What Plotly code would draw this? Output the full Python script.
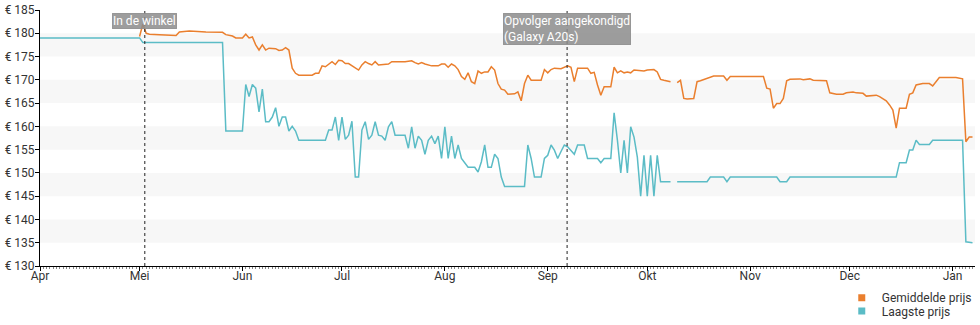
import plotly.graph_objects as go

# ---------------- data ----------------
low_dates = ["2019-04-01","2019-05-01","2019-05-02","2019-05-26","2019-05-27","2019-06-01","2019-06-02","2019-06-03","2019-06-04","2019-06-05",
    "2019-06-06","2019-06-07","2019-06-08","2019-06-09","2019-06-10","2019-06-11","2019-06-12","2019-06-13","2019-06-14","2019-06-15",
    "2019-06-16","2019-06-17","2019-06-18","2019-06-26","2019-06-27","2019-06-28","2019-06-29","2019-06-30","2019-07-01","2019-07-02",
    "2019-07-03","2019-07-04","2019-07-05","2019-07-06","2019-07-07","2019-07-08","2019-07-09","2019-07-10","2019-07-11","2019-07-12",
    "2019-07-13","2019-07-14","2019-07-15","2019-07-16","2019-07-17","2019-07-20","2019-07-21","2019-07-22","2019-07-23","2019-07-24",
    "2019-07-25","2019-07-26","2019-07-27","2019-07-28","2019-07-29","2019-07-30","2019-07-31","2019-08-01","2019-08-02","2019-08-03",
    "2019-08-04","2019-08-05","2019-08-06","2019-08-07","2019-08-08","2019-08-10","2019-08-11","2019-08-12","2019-08-13","2019-08-14",
    "2019-08-15","2019-08-16","2019-08-17","2019-08-18","2019-08-19","2019-08-25","2019-08-26","2019-08-27","2019-08-28","2019-08-30",
    "2019-08-31","2019-09-01","2019-09-02","2019-09-03","2019-09-04","2019-09-05","2019-09-06","2019-09-07","2019-09-08","2019-09-09",
    "2019-09-10","2019-09-12","2019-09-13","2019-09-16","2019-09-17","2019-09-18","2019-09-20","2019-09-21","2019-09-22","2019-09-23",
    "2019-09-24","2019-09-25","2019-09-26","2019-09-27","2019-09-28","2019-09-29","2019-09-30","2019-10-01","2019-10-02","2019-10-03",
    "2019-10-04","2019-10-05","2019-10-08","2019-10-09","2019-10-10","2019-10-19","2019-10-20","2019-10-24","2019-10-25","2019-10-26",
    "2019-11-09","2019-11-10","2019-11-12","2019-11-13","2019-12-15","2019-12-16","2019-12-18","2019-12-19","2019-12-20","2019-12-21",
    "2019-12-22","2019-12-25","2019-12-26","2020-01-04","2020-01-05","2020-01-07"]
low_values = [179,179,178,178,159,159,169,166.4,169,168.2,
    163.1,168,161,161,162,164,160,162,162,159,
    160,159,157,157,159.2,159.2,162,157,162,157.2,
    158.1,161.1,149.1,149.1,159.2,161,157.2,158.1,161,158.1,
    157.9,157,159.9,161,158.1,158.1,155.3,159.9,155.3,157.9,
    157,154,157,157.9,156.3,157.9,153.1,159.9,153.1,157.9,
    153.1,156,153.1,152.2,151.2,151.2,150.2,152.4,156,151.2,
    151.2,154,153.1,149.1,147.1,147.1,156,153.1,149.1,149.1,
    153.1,153.8,156,154.9,153.1,154.6,156,155.6,154.9,154,
    156,156,153.1,153.1,152.2,153.1,153.1,162.9,157,150,
    157,150,159.9,157.7,153.4,145,153.8,145,153.8,145,
    153.8,148.1,148.1,None,148.1,148.1,149.1,149.1,148.1,149.1,
    149.1,148.1,148.1,149.1,149.1,152.2,152.2,154.9,154.9,157,
    156.1,156.1,157,157,135.2,135]

avg_dates = ["2019-05-01","2019-05-02","2019-05-03","2019-05-04","2019-05-07","2019-05-12","2019-05-13","2019-05-16","2019-05-21","2019-05-26",
    "2019-05-27","2019-05-29","2019-05-30","2019-06-01","2019-06-02","2019-06-03","2019-06-04","2019-06-05","2019-06-06","2019-06-07",
    "2019-06-08","2019-06-09","2019-06-11","2019-06-12","2019-06-13","2019-06-14","2019-06-15","2019-06-16","2019-06-17","2019-06-18",
    "2019-06-22","2019-06-23","2019-06-24","2019-06-25","2019-06-26","2019-06-27","2019-06-28","2019-06-29","2019-06-30","2019-07-01",
    "2019-07-02","2019-07-03","2019-07-04","2019-07-05","2019-07-06","2019-07-07","2019-07-08","2019-07-09","2019-07-10","2019-07-11",
    "2019-07-12","2019-07-15","2019-07-16","2019-07-20","2019-07-22","2019-07-23","2019-07-24","2019-07-25","2019-07-26","2019-07-28",
    "2019-07-30","2019-07-31","2019-08-01","2019-08-02","2019-08-03","2019-08-04","2019-08-05","2019-08-06","2019-08-07","2019-08-08",
    "2019-08-09","2019-08-10","2019-08-11","2019-08-12","2019-08-13","2019-08-14","2019-08-15","2019-08-16","2019-08-17","2019-08-18",
    "2019-08-19","2019-08-20","2019-08-22","2019-08-23","2019-08-24","2019-08-25","2019-08-26","2019-08-27","2019-08-30","2019-08-31",
    "2019-09-01","2019-09-02","2019-09-03","2019-09-05","2019-09-06","2019-09-07","2019-09-08","2019-09-09","2019-09-10","2019-09-13",
    "2019-09-14","2019-09-15","2019-09-16","2019-09-17","2019-09-18","2019-09-20","2019-09-21","2019-09-22","2019-09-23","2019-09-24",
    "2019-09-25","2019-09-26","2019-09-27","2019-09-30","2019-10-01","2019-10-03","2019-10-04","2019-10-05","2019-10-06","2019-10-08",
    "2019-10-09","2019-10-10","2019-10-11","2019-10-12","2019-10-13","2019-10-15","2019-10-16","2019-10-17","2019-10-19","2019-10-21",
    "2019-10-24","2019-10-25","2019-10-26","2019-11-05","2019-11-06","2019-11-07","2019-11-08","2019-11-09","2019-11-10","2019-11-11",
    "2019-11-12","2019-11-13","2019-11-16","2019-11-17","2019-11-19","2019-11-20","2019-11-24","2019-11-25","2019-11-27","2019-11-29",
    "2019-11-30","2019-12-02","2019-12-03","2019-12-05","2019-12-06","2019-12-08","2019-12-09","2019-12-10","2019-12-11","2019-12-12",
    "2019-12-13","2019-12-14","2019-12-15","2019-12-16","2019-12-18","2019-12-19","2019-12-20","2019-12-21","2019-12-23","2019-12-25",
    "2019-12-26","2019-12-28","2020-01-02","2020-01-04","2020-01-05","2020-01-06","2020-01-07"]
avg_values = [179.3,182,180,179.8,179.7,179.5,180.3,180.5,180.3,180.2,
    179.7,179.4,179,179,179.8,179,179.2,177.5,176.4,177.5,
    176.4,176.8,176.7,176.3,176.4,176.9,176.4,172.5,171.4,171,
    171,171.4,171.4,173,172.8,173.3,173.9,173.3,174.2,174.1,
    173.5,173.5,173,172.5,172.1,173.2,173.9,173.5,173.2,173.9,
    173.2,173.4,173.9,173.9,174.1,173.7,173.4,173.7,173.4,173,
    173,173.4,173.4,172.7,173.4,173,172.2,170.7,170.1,171.5,
    169.6,169.2,171.9,171.4,171.7,171.7,172.8,172.1,169.2,168,
    167.8,166.9,167,167.4,165.5,169.2,171,169.9,169.9,172.2,
    171.5,172.2,172.5,172.4,172.7,173,172.7,169.6,172.5,172.5,
    171.4,171.6,168.9,166.7,168.5,168.5,172.7,171.5,171.9,171.5,
    171.7,171.5,172.1,171.9,172.1,172.2,171.7,170.1,169.9,169.6,
    None,169.4,169.9,166,165.9,166,169.6,169.8,170.3,170.8,
    170.8,169.9,170.7,170.7,168.2,168,163.9,164.9,164.9,166,
    169.8,170.1,170.2,170,170.2,169.9,169.8,167.2,166.9,166.9,
    167.2,167.4,167.2,167.1,166.5,166.6,166.7,166.4,166,165.5,
    164.6,163.5,159.6,163.9,163.9,166.9,167.2,168.9,169.2,169.2,
    168.7,170.5,170.5,170.2,156.7,157.7,157.7]

month_ticks = ["2019-04-01","2019-05-01","2019-06-01","2019-07-01","2019-08-01","2019-09-01",
               "2019-10-01","2019-11-01","2019-12-01","2020-01-01"]
month_labels = ["Apr","Mei","Jun","Jul","Aug","Sep","Okt","Nov","Dec","Jan"]
y_ticks = [130,135,140,145,150,155,160,165,170,175,180,185]
y_labels = ["€ 130","€ 135","€ 140","€ 145","€ 150","€ 155","€ 160","€ 165","€ 170","€ 175","€ 180","€ 185"]
band_starts = [135,145,155,165,175]

event_dates = ["2019-05-02 14:00","2019-09-06 20:00"]
event_labels = ["In de winkel","Opvolger aangekondigd<br>(Galaxy A20s)"]

series_names = ["Gemiddelde prijs","Laagste prijs"]
ORANGE = "#ea7f2e"
TEAL = "#5bbcc6"

# ---------------- figure ----------------
fig = go.Figure()
fig.add_trace(go.Scatter(x=avg_dates, y=avg_values, mode="lines", line=dict(color=ORANGE, width=1.5),
                         showlegend=False, connectgaps=False, hoverinfo="skip"))
fig.add_trace(go.Scatter(x=low_dates, y=low_values, mode="lines", line=dict(color=TEAL, width=1.5),
                         showlegend=False, connectgaps=False, hoverinfo="skip"))
for nm, col, lg in zip(series_names, [ORANGE, TEAL], ["legend", "legend2"]):
    fig.add_trace(go.Scatter(x=[None], y=[None], mode="markers", name=nm, legend=lg,
                             marker=dict(symbol="square", size=7, color=col)))

for b in band_starts:
    fig.add_shape(type="rect", xref="paper", x0=0, x1=1, yref="y", y0=b, y1=b + 5,
                  fillcolor="#f7f7f7", line=dict(width=0), layer="below")

for d, lbl in zip(event_dates, event_labels):
    fig.add_shape(type="line", xref="x", x0=d, x1=d, yref="paper", y0=0, y1=1,
                  line=dict(color="#222222", width=1, dash="dot"), layer="above")
    fig.add_annotation(x=d, xref="x", y=0.99, yref="paper", yanchor="top", xanchor="center",
                       text=lbl, showarrow=False, align="left",
                       font=dict(family="Roboto", size=12, color="white"),
                       bgcolor="rgba(140,140,140,0.85)", bordercolor="rgba(140,140,140,0.85)",
                       borderwidth=1, borderpad=0)

legend_common = dict(x=0.8575, xanchor="left", yanchor="top", bgcolor="rgba(0,0,0,0)",
                     font=dict(family="Roboto", size=12, color="#333333"),
                     tracegroupgap=0, itemwidth=30)

fig.update_layout(
    width=980, height=325,
    margin=dict(l=40, r=5, t=10, b=59, autoexpand=False),
    paper_bgcolor="white", plot_bgcolor="white",
    font=dict(family="Roboto", size=12, color="#333333"),
    showlegend=True,
    legend=dict(y=-0.067, **legend_common),
    legend2=dict(y=-0.119, **legend_common),
    xaxis=dict(type="date", range=["2019-04-01", "2020-01-07 18:00"],
               tickvals=month_ticks, ticktext=month_labels,
               showgrid=False, zeroline=False, showline=True, linecolor="black", linewidth=1,
               ticks="outside", ticklen=4, tickcolor="black", ticklabelstandoff=-5,
               minor=dict(dtick=86400000, ticks="outside", ticklen=2, tickcolor="#888888", showgrid=False),
               tickfont=dict(family="Roboto", size=12, color="#333333")),
    yaxis=dict(range=[130, 185], tickvals=y_ticks, ticktext=y_labels,
               showgrid=False, zeroline=False, showline=True, linecolor="black", linewidth=1,
               ticks="outside", ticklen=4, tickcolor="black", ticklabelstandoff=-2,
               tickfont=dict(family="Roboto", size=12, color="#333333")),
)

fig.write_html("out.html")
